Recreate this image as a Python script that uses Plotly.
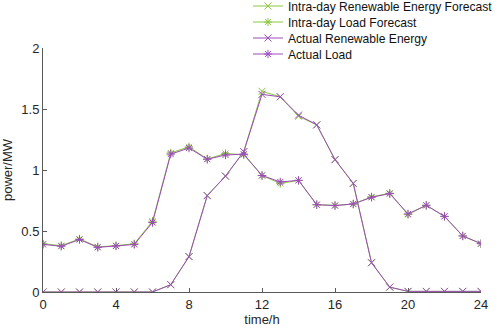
import plotly.graph_objects as go

hours = list(range(25))
renew_forecast = [0, 0, 0, 0, 0, 0, 0, 0.06, 0.29, 0.79, 0.95, 1.15, 1.645, 1.60, 1.44, 1.37, 1.085, 0.89, 0.24, 0.04, 0.005, 0.005, 0.005, 0.005, 0.005]
load_forecast = [0.395, 0.38, 0.435, 0.37, 0.38, 0.395, 0.58, 1.14, 1.19, 1.09, 1.135, 1.125, 0.955, 0.89, 0.915, 0.715, 0.71, 0.72, 0.78, 0.81, 0.635, 0.71, 0.62, 0.46, 0.395]
renew_actual = [0, 0, 0, 0, 0, 0, 0, 0.06, 0.29, 0.79, 0.95, 1.15, 1.62, 1.60, 1.45, 1.37, 1.085, 0.89, 0.24, 0.04, 0.005, 0.005, 0.005, 0.005, 0.005]
load_actual = [0.39, 0.375, 0.43, 0.366, 0.377, 0.39, 0.57, 1.13, 1.18, 1.088, 1.123, 1.13, 0.955, 0.902, 0.915, 0.716, 0.708, 0.722, 0.776, 0.806, 0.64, 0.711, 0.62, 0.459, 0.397]

green = "#8cc63f"
purple = "#9b4dba"
FONT = "Liberation Sans, Arial"

fig = go.Figure()
def add(y, name, color, sym, leg):
    fig.add_trace(go.Scatter(
        x=hours, y=y, name=name, mode="lines+markers", legend=leg, showlegend=True,
        line=dict(color=color, width=1),
        marker=dict(symbol=sym, size=7, color=color, line=dict(color=color, width=1)),
    ))

add(renew_forecast, "Intra-day Renewable Energy Forecast", green, "x-thin", "legend")
add(load_forecast, "Intra-day Load Forecast", green, "asterisk", "legend2")
add(renew_actual, "Actual Renewable Energy", purple, "x-thin", "legend3")
add(load_actual, "Actual Load", purple, "asterisk", "legend4")

axis_common = dict(
    showline=True, linecolor="#595959", linewidth=1, mirror=False,
    ticks="inside", ticklen=4, tickcolor="#595959", showgrid=False, zeroline=False,
    tickfont=dict(family=FONT, size=13, color="#262626"),
)
fig.update_xaxes(range=[0, 24], tickvals=[0, 4, 8, 12, 16, 20, 24],
                 title=dict(text="time/h", font=dict(family=FONT, size=13, color="#262626"), standoff=4),
                 **axis_common)
fig.update_yaxes(range=[0, 2], tickvals=[0, 0.5, 1, 1.5, 2], ticktext=["0", "0.5", "1", "1.5", "2"],
                 title=dict(text="power/MW", font=dict(family=FONT, size=13, color="#262626"), standoff=6),
                 **axis_common)

def leg(ypix):
    yp = 1 + (48 - ypix) / 244
    return dict(x=0.468, xanchor="left", y=yp, yanchor="middle",
                bgcolor="rgba(0,0,0,0)", font=dict(family=FONT, size=12.1, color="#111111"),
                itemwidth=30)

fig.update_layout(
    width=498, height=332, showlegend=True,
    margin=dict(l=43, r=17, t=48, b=40, autoexpand=False),
    plot_bgcolor="white", paper_bgcolor="white",
    legend=leg(6), legend2=leg(22), legend3=leg(38), legend4=leg(54),
)
fig.write_html("out.html", config={"displayModeBar": False},
               post_script="document.body.style.margin='0';document.body.style.overflow='hidden';")
